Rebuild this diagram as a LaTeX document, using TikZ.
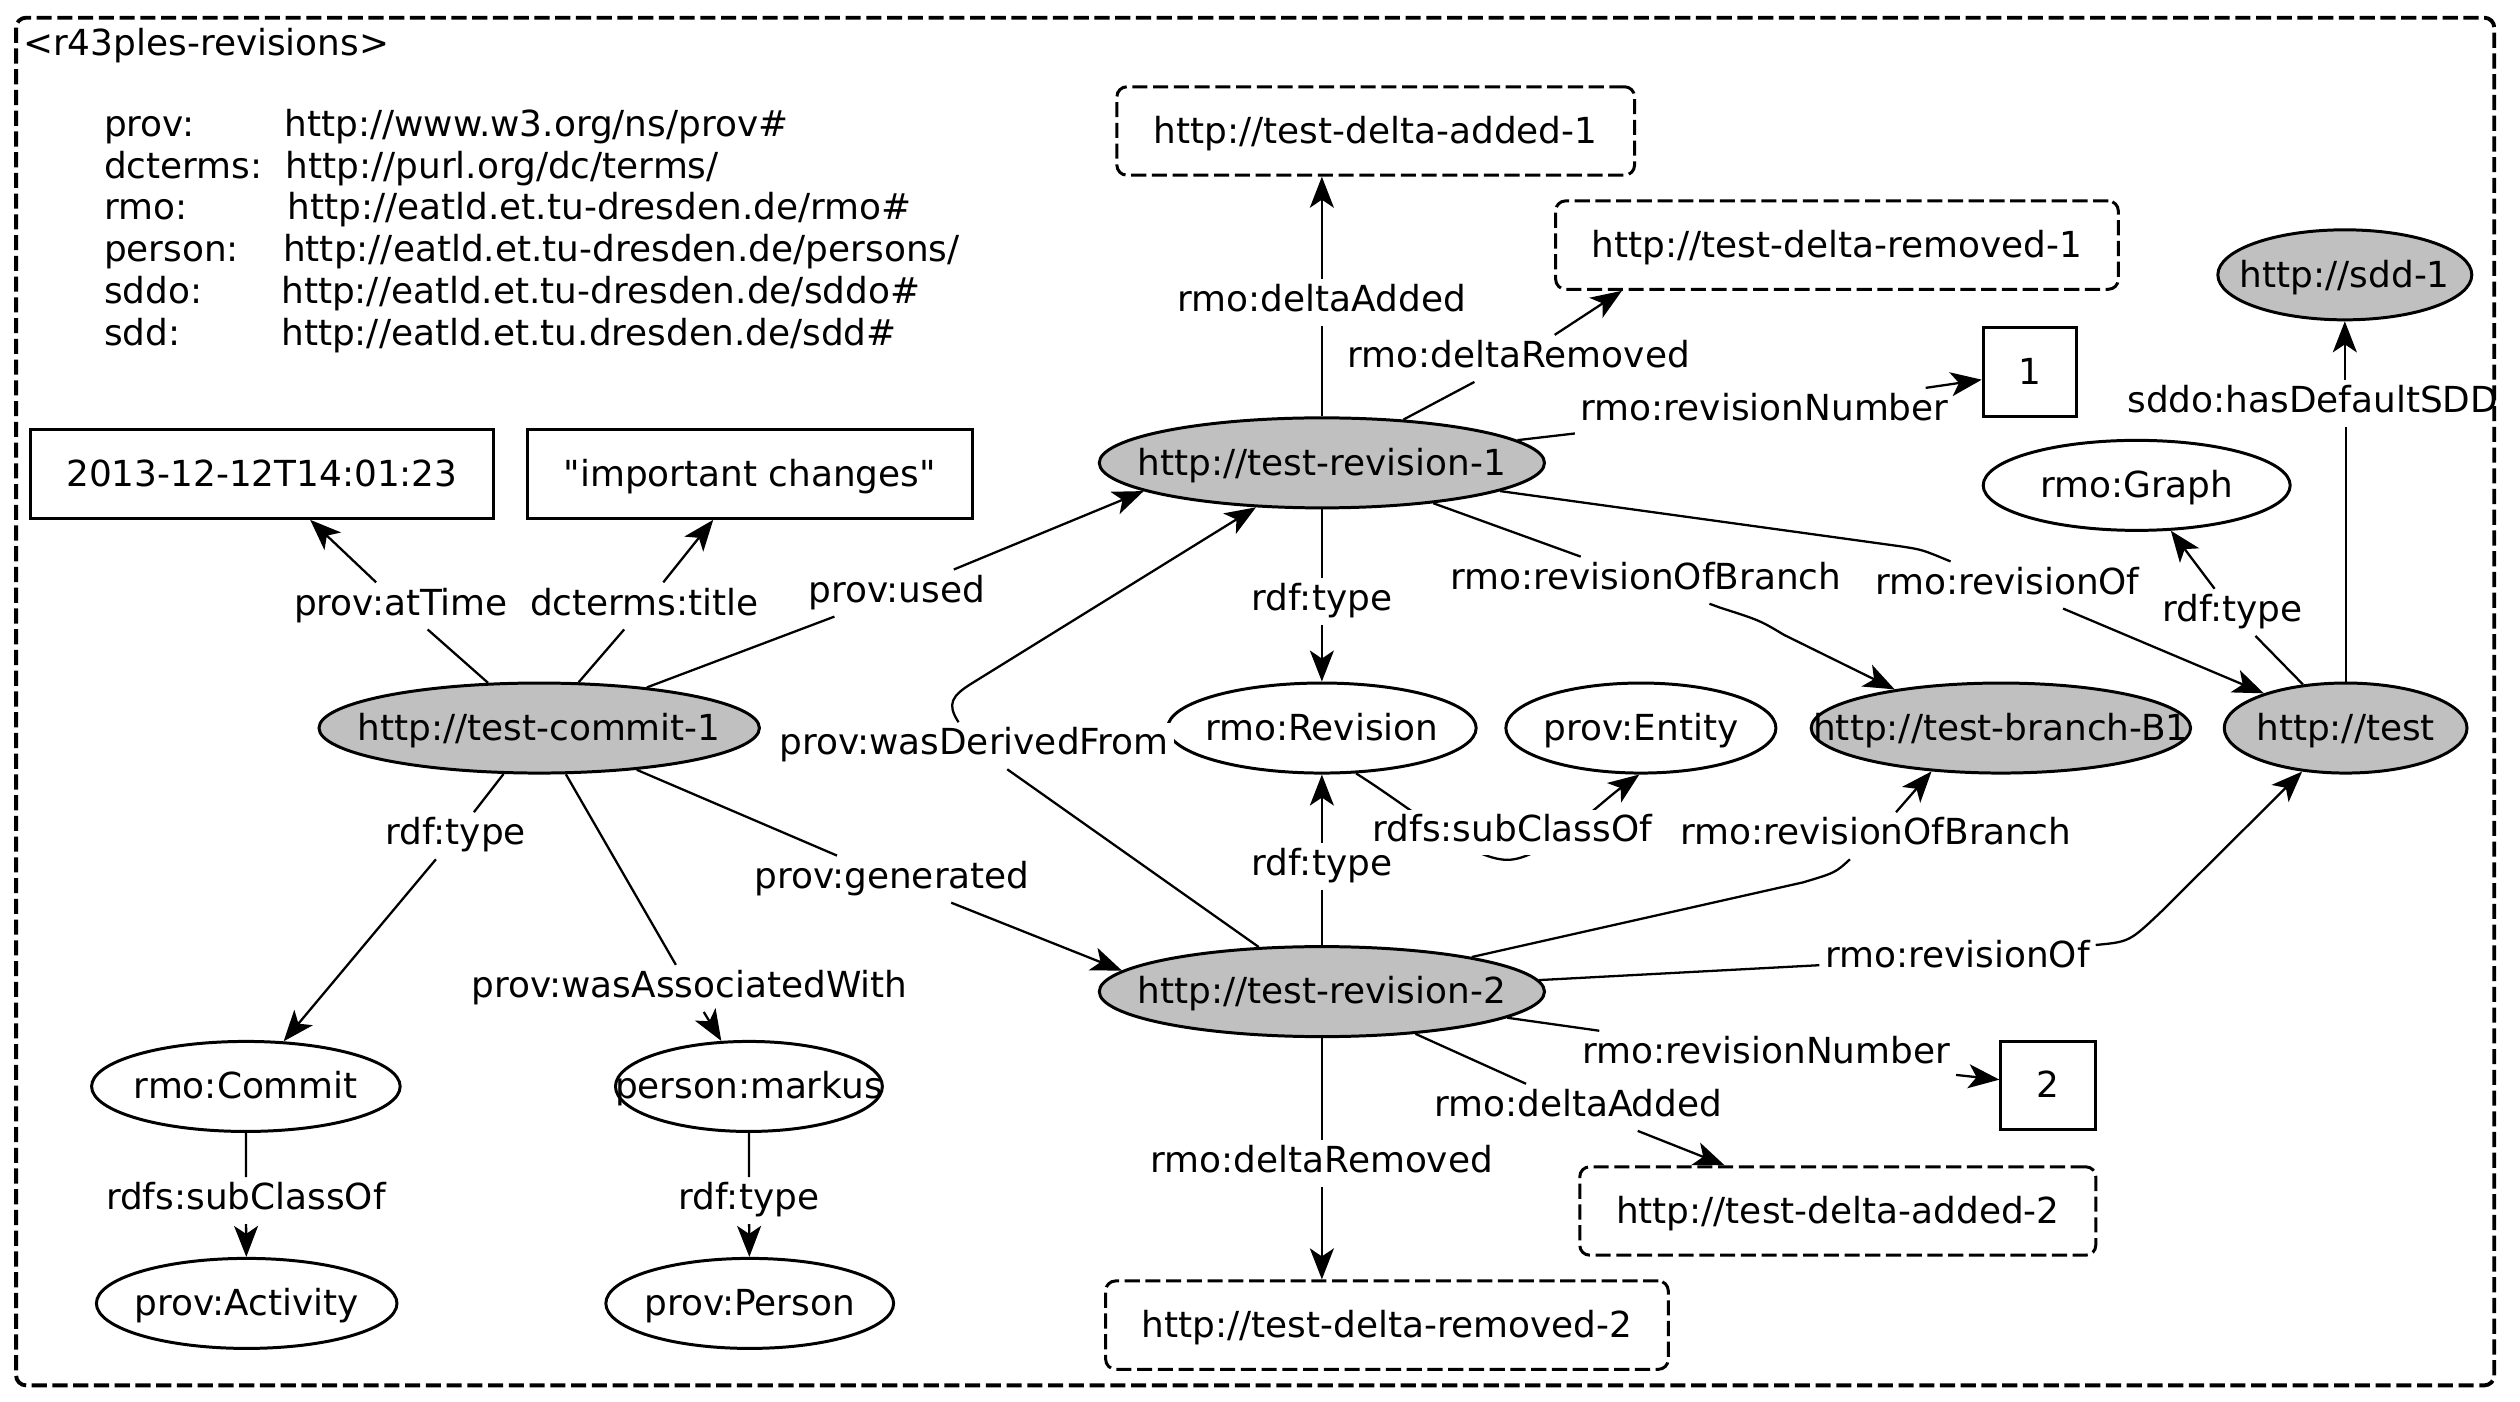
\documentclass[tikz,border=0pt]{standalone}
\usepackage{fontspec}
\setmainfont{DejaVu Sans}[Ligatures=TeXOff]
\usetikzlibrary{arrows.meta,shapes.geometric,backgrounds}
\definecolor{nodegray}{HTML}{C0C0C0}
\newcommand\ct[1]{\makebox[0pt]{#1}}
\begin{document}
\begin{tikzpicture}[x=0.01607cm, y=-0.01607cm,
  font=\fontsize{10.2}{12}\selectfont,
  ell/.style={ellipse, draw, line width=0.85pt, minimum width=#1, minimum height=0.9cm, inner sep=0pt, text height=0.85em, text depth=0.15em},
  gell/.style={ell=#1, fill=nodegray},
  lit/.style={rectangle, draw, line width=0.85pt, minimum width=#1, minimum height=0.884cm, inner sep=0pt, text height=0.85em, text depth=0.15em},
  dlit/.style={lit=#1, rounded corners=0.1cm, dash pattern=on 4.3pt off 1.6pt},
  lbl/.style={inner sep=1.5pt, fill=white, text height=0.76em, text depth=0.24em},
  conn/.style={line width=0.65pt, -{Stealth[length=0.31cm, width=0.24cm, inset=0.08cm]}},
  frame/.style={line width=1.1pt, dash pattern=on 4.3pt off 1.6pt, rounded corners=0.1cm}]
\useasboundingbox (0,0) rectangle (1568,872);

% title and prefixes
\node[anchor=base west, inner sep=0pt] (title) at (14,34.5) {<r43ples-revisions>};
\node[anchor=base west, inner sep=0pt] (prefixes) at (64.3,84.8) {\fontsize{10.2}{11.88}\selectfont
  \begin{tabular}[t]{@{}p{1.772cm}@{}l@{}}
  prov: & \hspace{0.032cm}http://www.w3.org/ns/prov\#\\
  dcterms: & \hspace{0.045cm}http://purl.org/dc/terms/\\
  rmo: & \hspace{0.064cm}http://eatld.et.tu-dresden.de/rmo\#\\
  person: & \hspace{0.019cm}http://eatld.et.tu-dresden.de/persons/\\
  sddo: & http://eatld.et.tu-dresden.de/sddo\#\\
  sdd: & http://eatld.et.tu.dresden.de/sdd\#
  \end{tabular}};

% ellipses
\node[gell=4.403cm] (commit) at (335.5,453) {\ct{http://test-commit-1}};
\node[ell=3.085cm] (rcommit) at (153,676) {\ct{rmo:Commit}};
\node[ell=2.668cm] (markus) at (466,676) {\ct{person:markus}};
\node[ell=3.005cm] (activity) at (153.5,811) {\ct{prov:Activity}};
\node[ell=2.877cm] (person) at (466.5,811) {\ct{prov:Person}};
\node[gell=4.451cm] (rev1) at (822.5,288) {\ct{http://test-revision-1}};
\node[gell=4.451cm] (rev2) at (822.5,617) {\ct{http://test-revision-2}};
\node[gell=2.539cm] (sdd1) at (1459,171) {\ct{http://sdd-1}};
\node[ell=3.069cm] (graph) at (1329.5,302) {\ct{rmo:Graph}};
\node[ell=3.085cm] (revision) at (822.5,453) {\ct{rmo:Revision}};
\node[ell=2.700cm] (entity) at (1021,453) {\ct{prov:Entity}};
\node[gell=3.793cm] (branch) at (1245,453) {\ct{http://test-branch-B1}};
\node[gell=2.427cm] (test) at (1459.5,453) {\ct{http://test}};

% boxes
\node[lit=4.628cm] (date) at (163,295) {\ct{2013-12-12T14:01:23}};
\node[lit=4.451cm] (imp) at (466.5,295) {\ct{"important changes"}};
\node[dlit=5.175cm] (dadd1) at (856,81.5) {\ct{http://test-delta-added-1}};
\node[dlit=5.625cm] (drem1) at (1143,152.5) {\ct{http://test-delta-removed-1}};
\node[lit=0.932cm] (one) at (1263,231.5) {\ct{1}};
\node[lit=0.948cm] (two) at (1274.5,675.5) {\ct{2}};
\node[dlit=5.159cm] (dadd2) at (1143.5,753.5) {\ct{http://test-delta-added-2}};
\node[dlit=5.625cm] (drem2) at (863,824.5) {\ct{http://test-delta-removed-2}};

% edge labels
\node[lbl] (lattime) at (249.5,377) {prov:atTime};
\node[lbl] (ltitle) at (401,377) {dcterms:title};
\node[lbl] (lused) at (558,369) {prov:used};
\node[lbl] (ltypec) at (283.5,520) {rdf:type};
\node[lbl] (lassoc) at (429,615) {prov:wasAssociatedWith};
\node[lbl] (lgen) at (555,547) {prov:generated};
\node[lbl] (lsub1) at (153,747) {rdfs:subClassOf};
\node[lbl] (ltypem) at (466,747) {rdf:type};
\node[lbl] (ldadd1) at (822.5,188) {rmo:deltaAdded};
\node[lbl] (ldrem1) at (945,223) {rmo:deltaRemoved};
\node[lbl] (lnum1) at (1098,256) {rmo:revisionNumber};
\node[lbl] (ltype1) at (822.5,374) {rdf:type};
\node[lbl] (lbranch1) at (1024,361) {rmo:revisionOfBranch};
\node[lbl] (lrevof1) at (1249,364) {rmo:revisionOf};
\node[lbl] (ltypet) at (1389,381) {rdf:type};
\node[lbl] (lsdd) at (1439,251) {sddo:hasDefaultSDD};
\node[lbl] (ltype2) at (822.5,539) {rdf:type};
\node[lbl] (lderived) at (606,464) {prov:wasDerivedFrom};
\node[lbl] (lsub2) at (941,518) {rdfs:subClassOf};
\node[lbl] (lbranch2) at (1167,520) {rmo:revisionOfBranch};
\node[lbl] (lrevof2) at (1218,596) {rmo:revisionOf};
\node[lbl] (lnum2) at (1099,656) {rmo:revisionNumber};
\node[lbl] (ldadd2) at (982,689) {rmo:deltaAdded};
\node[lbl] (ldrem2) at (822.5,724) {rmo:deltaRemoved};

% edges
\draw[conn] (commit) -- (lattime) -- (date);
\draw[conn] (commit) -- (ltitle) -- (imp);
\draw[conn] (commit) -- (lused) -- (rev1.189);
\draw[conn] (commit) -- (ltypec) -- (rcommit);
\draw[conn] (commit) -- (lassoc) -- (markus);
\draw[conn] (commit) -- (lgen) -- (rev2.174);
\draw[conn] (rcommit) -- (lsub1) -- (activity);
\draw[conn] (markus) -- (ltypem) -- (person);
\draw[conn] (rev1) -- (ldadd1) -- (rev1 |- dadd1.south);
\draw[conn] (rev1) -- (ldrem1) -- (drem1.192);
\draw[conn] (rev1) -- (lnum1) -- (one.189);
\draw[conn] (rev1) -- (ltype1) -- (revision);
\draw[conn] (rev1) -- (lbranch1) -- (1070,378) .. controls (1095,386) .. (1110,395) -- (branch.160);
\draw[conn] (rev1.351) -- (1183,340) .. controls (1196,342) .. (lrevof1) -- (test.157);
\draw[conn] (test) -- (ltypet) -- (graph);
\draw[conn] (test) -- (test |- lsdd.south) (sdd1 |- lsdd.north) -- (sdd1);
\draw[conn] (rev2) -- (ltype2) -- (revision);
\draw[conn] (rev2) -- (lderived) .. controls (589,438) and (592,433) .. (605,425) -- (rev1.214);
\begin{scope}[on background layer]
\draw[conn] (revision.307) .. controls (880,504) and (915,535) .. (938,535) .. controls (960,535) and (995,500) .. (entity.268);
\end{scope}
\draw[conn] (rev2.13) -- (1122,549) .. controls (1142,543) .. (lbranch2) -- (branch.212);
\draw[conn] (rev2) -- (lrevof2) .. controls (1325,586) .. (1345,567) -- (test.225);
\draw[conn] (rev2) -- (lnum2) -- (two.173);
\draw[conn] (rev2) -- (ldadd2) -- (dadd2.158);
\draw[conn] (rev2) -- (ldrem2) -- (rev2 |- drem2.north);

% cluster frame
\draw[frame] (10,11) rectangle (1552,862);
\end{tikzpicture}
\end{document}
